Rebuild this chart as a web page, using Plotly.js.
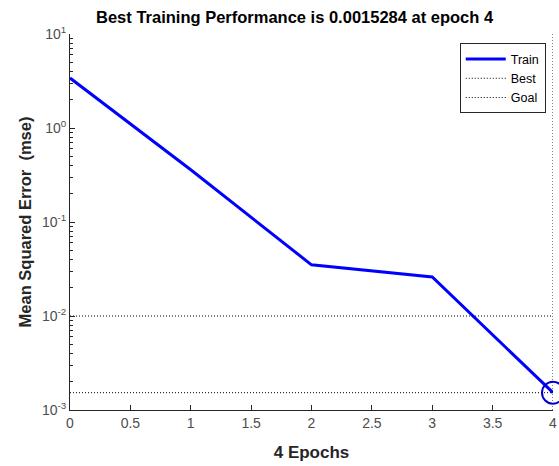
<!DOCTYPE html>
<html>
<head>
<meta charset="utf-8">
<script src="https://cdn.plot.ly/plotly-3.0.1.min.js"></script>
<style>html,body{margin:0;padding:0;background:#fff;}#chart{width:559px;height:466px;}</style>
</head>
<body>
<div id="chart"></div>
<script>
// Data
const epochs = [0, 1, 2, 3, 4];
const trainMSE = [3.4, 0.36, 0.035, 0.026, 0.0015284];
const bestEpoch = 4;
const bestValue = 0.0015284;
const goalValue = 0.01;
const xRange = [0, 4];
const yRangeDecades = [-3, 1];
const yTickVals = [0.001, 0.01, 0.1, 1, 10];
const yTickText = ['10<sup>-3</sup>', '10<sup>-2</sup>', '10<sup>-1</sup>', '10<sup>0</sup>', '10<sup>1</sup>'];
const minorMultipliers = [2, 3, 4, 5, 6, 7, 8, 9];
const titleText = 'Best Training Performance is 0.0015284 at epoch 4';
const xTitle = '4 Epochs';
const yTitle = 'Mean Squared Error  (mse)';

const yMinorVals = [];
for (let d = yRangeDecades[0]; d < yRangeDecades[1]; d++) {
  minorMultipliers.forEach(m => yMinorVals.push(m * Math.pow(10, d)));
}

const font = 'Liberation Sans, Arial, Helvetica, sans-serif';
const dotted = '1px,2px';

const traces = [
  {
    x: epochs, y: trainMSE, name: 'Train', mode: 'lines',
    line: {color: '#0000ff', width: 3}
  },
  {
    x: [xRange[0], bestEpoch, null, bestEpoch, bestEpoch],
    y: [bestValue, bestValue, null, Math.pow(10, yRangeDecades[0]), Math.pow(10, yRangeDecades[1])],
    name: 'Best', mode: 'lines', line: {color: '#000000', width: 1, dash: dotted},
    cliponaxis: false
  },
  {
    x: [xRange[0], xRange[1]], y: [goalValue, goalValue], name: 'Goal', mode: 'lines',
    line: {color: '#000000', width: 1, dash: dotted}
  },
  {
    x: [bestEpoch], y: [bestValue], mode: 'markers', showlegend: false,
    marker: {symbol: 'circle-open', size: 22, color: '#0000cc', line: {width: 2, color: '#0000cc'}},
    cliponaxis: false
  }
];

const layout = {
  width: 559, height: 466,
  margin: {l: 70, r: 6, t: 34, b: 56},
  paper_bgcolor: '#ffffff', plot_bgcolor: '#ffffff',
  font: {family: font, color: '#262626', size: 14},
  title: {text: '<b>' + titleText + '</b>', font: {family: font, size: 16.5, color: '#000'}, x: 0.527, xanchor: 'center', y: 0.963, yanchor: 'middle'},
  showlegend: true,
  legend: {
    x: 0.985, y: 0.975, xanchor: 'right', yanchor: 'top',
    bordercolor: '#262626', borderwidth: 1, bgcolor: '#ffffff',
    font: {family: font, size: 12.5, color: '#000'},
    tracegroupgap: 0, itemwidth: 40
  },
  xaxis: {
    range: xRange, dtick: 0.5, tick0: 0,
    showline: true, linecolor: '#262626', linewidth: 1,
    ticks: 'inside', ticklen: 5, tickcolor: '#262626',
    showgrid: false, zeroline: false, mirror: false,
    tickfont: {family: font, size: 14, color: '#4d4d4d'},
    title: {text: '<b>' + xTitle + '</b>', font: {family: font, size: 17, color: '#262626'}, standoff: 16}
  },
  yaxis: {
    type: 'log', range: yRangeDecades,
    tickmode: 'array', tickvals: yTickVals, ticktext: yTickText,
    showline: true, linecolor: '#262626', linewidth: 1,
    ticks: 'inside', ticklen: 5, tickcolor: '#262626',
    showgrid: false, zeroline: false, mirror: false,
    minor: {ticks: 'inside', ticklen: 3, tickmode: 'array', tickvals: yMinorVals, tickcolor: '#262626', showgrid: false},
    tickfont: {family: font, size: 14, color: '#4d4d4d'},
    title: {text: '<b>' + yTitle + '</b>', font: {family: font, size: 16.5, color: '#262626'}, standoff: 6}
  }
};

Plotly.newPlot('chart', traces, layout, {displayModeBar: false, staticPlot: true});
</script>
</body>
</html>
